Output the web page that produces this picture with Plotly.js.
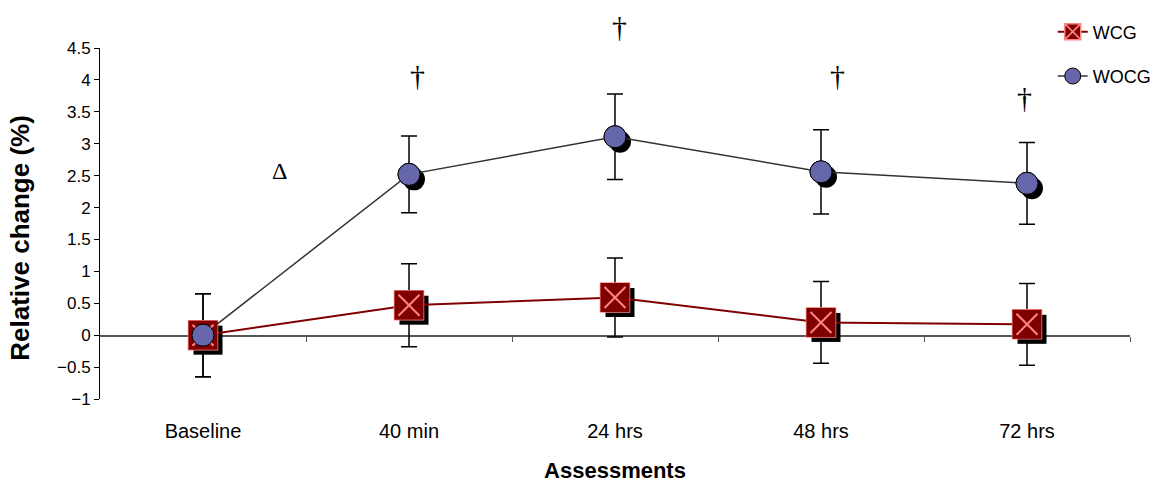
<!DOCTYPE html>
<html>
<head>
<meta charset="utf-8">
<script src="https://cdn.plot.ly/plotly-3.0.1.min.js"></script>
<style>
  html, body { margin: 0; padding: 0; background: #ffffff; }
  #chart { width: 1160px; height: 483px; }
</style>
</head>
<body>
<div id="chart"></div>
<script>
// ---- data ----
const categories = ['Baseline', '40 min', '24 hrs', '48 hrs', '72 hrs'];
const wcgValues   = [0, 0.47, 0.59, 0.20, 0.17];
const wcgErrors   = [0.65, 0.65, 0.62, 0.64, 0.64];
const wocgValues  = [0, 2.52, 3.11, 2.56, 2.38];
const wocgErrors  = [0.65, 0.60, 0.67, 0.66, 0.64];
const daggerX     = [1.04, 2.02, 3.08, 3.99];   // category index where each † sits
const daggerY     = [4.07, 4.84, 4.07, 3.72];
const deltaX      = 0.37;   // between Baseline and 40 min (category index)
const deltaY      = 2.58;
const yTicks      = [-1, -0.5, 0, 0.5, 1, 1.5, 2, 2.5, 3, 3.5, 4, 4.5];

// ---- helpers ----
const idx = categories.map((c, i) => i);
const xRange = [-0.5, categories.length - 0.5];
const yRange = [-1, 4.5];
const plotW = 1030, plotH = 351;
const shadowPx = 5;
const dx = shadowPx * (xRange[1] - xRange[0]) / plotW;
const dy = shadowPx * (yRange[1] - yRange[0]) / plotH;
const yToPaper = v => (v - yRange[0]) / (yRange[1] - yRange[0]);
const FONT = 'Liberation Sans, Arial, sans-serif';
const SERIF = 'Liberation Serif, Times New Roman, serif';
const RED = '#800000', PINK = '#ff8585', BLUE = '#6666aa', GREY = '#333333';
const SQ = 29, CI = 22;

const traces = [
  // shadows (base subplot, shifted axes)
  { x: idx, y: wcgValues, type: 'scatter', mode: 'markers', xaxis: 'x', yaxis: 'y',
    marker: { symbol: 'square', size: SQ, color: '#000000', line: { width: 0 } },
    showlegend: false, hoverinfo: 'skip' },
  { x: idx, y: wocgValues, type: 'scatter', mode: 'markers', xaxis: 'x', yaxis: 'y',
    marker: { symbol: 'circle', size: CI, color: '#000000', line: { width: 0 } },
    showlegend: false, hoverinfo: 'skip' },
  // error bars
  { x: idx, y: wcgValues, type: 'scatter', mode: 'none', xaxis: 'x2', yaxis: 'y2',
    error_y: { type: 'data', array: wcgErrors, visible: true, color: '#000000', thickness: 1.5, width: 8 },
    showlegend: false, hoverinfo: 'skip' },
  { x: idx, y: wocgValues, type: 'scatter', mode: 'none', xaxis: 'x2', yaxis: 'y2',
    error_y: { type: 'data', array: wocgErrors, visible: true, color: '#000000', thickness: 1.5, width: 8 },
    showlegend: false, hoverinfo: 'skip' },
  // main series (carry the legend)
  { x: idx, y: wcgValues, type: 'scatter', mode: 'lines+markers', name: 'WCG', legendgroup: 'a',
    xaxis: 'x2', yaxis: 'y2',
    line: { color: RED, width: 2 },
    marker: { symbol: 'square-x', size: SQ, color: RED, line: { color: PINK, width: 1.5 } } },
  { x: idx, y: wocgValues, type: 'scatter', mode: 'lines+markers', name: 'WOCG', legendgroup: 'b',
    xaxis: 'x2', yaxis: 'y2',
    line: { color: GREY, width: 1.5 },
    marker: { symbol: 'circle', size: CI, color: BLUE, line: { color: '#000000', width: 1 } } },
  // marker overlays
  { x: idx, y: wcgValues, type: 'scatter', mode: 'markers', xaxis: 'x2', yaxis: 'y2',
    marker: { symbol: 'square', size: SQ, color: RED, line: { width: 0 } },
    showlegend: false, hoverinfo: 'skip' },
  { x: idx, y: wcgValues, type: 'scatter', mode: 'markers', xaxis: 'x2', yaxis: 'y2',
    marker: { symbol: 'x-thin-open', size: 21, color: PINK, line: { color: PINK, width: 2 } },
    showlegend: false, hoverinfo: 'skip' },
  { x: idx, y: wocgValues, type: 'scatter', mode: 'markers', xaxis: 'x2', yaxis: 'y2',
    marker: { symbol: 'circle', size: CI, color: BLUE, line: { color: '#000000', width: 1 } },
    showlegend: false, hoverinfo: 'skip' },
  // carrier for the zero-crossing axis line
  { x: idx, y: wcgValues, type: 'scatter', mode: 'none', xaxis: 'x3', yaxis: 'y2',
    showlegend: false, hoverinfo: 'skip' }
];

const annotations = daggerX.map((xv, i) => ({
  x: xv, y: yToPaper(daggerY[i]), xref: 'x2', yref: 'paper',
  xanchor: 'center', yanchor: 'middle',
  text: '†', showarrow: false, font: { family: SERIF, size: 30, color: '#000000' }
}));
annotations.push({
  x: deltaX, y: deltaY, xref: 'x2', yref: 'y2', xanchor: 'center', yanchor: 'middle',
  text: 'Δ', showarrow: false, font: { family: SERIF, size: 24, color: '#000000' }
});

const layout = {
  width: 1160, height: 483,
  margin: { l: 100, r: 30, t: 48, b: 84, autoexpand: false },
  paper_bgcolor: '#ffffff', plot_bgcolor: 'rgba(0,0,0,0)',
  font: { family: FONT, size: 18, color: '#000000' },
  showlegend: true,
  legend: {
    x: 0.925, y: 1.0985, xanchor: 'left', yanchor: 'top',
    bgcolor: 'rgba(0,0,0,0)', borderwidth: 0,
    font: { family: FONT, size: 18, color: '#000000' },
    traceorder: 'grouped', tracegroupgap: 18
  },
  xaxis: { range: [xRange[0] - dx, xRange[1] - dx], visible: false, fixedrange: true },
  yaxis: { range: [yRange[0] + dy, yRange[1] + dy], visible: false, fixedrange: true },
  xaxis2: {
    overlaying: 'x', anchor: 'y2', range: xRange,
    tickmode: 'array', tickvals: idx, ticktext: categories,
    ticks: '', showline: false, showgrid: false, zeroline: false,
    ticklabelstandoff: 18,
    tickfont: { family: FONT, size: 20, color: '#000000' },
    title: { text: '<b>Assessments</b>', font: { family: FONT, size: 22, color: '#000000' }, standoff: 28 }
  },
  yaxis2: {
    overlaying: 'y', anchor: 'x2', side: 'left', range: yRange,
    tickmode: 'array', tickvals: yTicks,
    ticks: 'outside', ticklen: 5, tickwidth: 1, tickcolor: '#000000',
    showline: true, linecolor: '#000000', linewidth: 1,
    showgrid: false, zeroline: false,
    tickfont: { family: FONT, size: 17, color: '#000000' },
    title: { text: '<b>Relative change (%)</b>&nbsp;&nbsp;&nbsp;&nbsp;', font: { family: FONT, size: 26, color: '#000000' }, standoff: 19 }
  },
  xaxis3: {
    overlaying: 'x', anchor: 'free', position: yToPaper(0),
    range: xRange, tickmode: 'array',
    tickvals: idx.map(i => i + 0.5),
    ticks: 'outside', ticklen: 5, tickwidth: 1, tickcolor: '#555555',
    showline: true, linecolor: '#555555', linewidth: 1.5,
    showticklabels: false, showgrid: false, zeroline: false, layer: 'below traces'
  },
  annotations: annotations
};

Plotly.newPlot('chart', traces, layout, { staticPlot: true, displayModeBar: false });
</script>
</body>
</html>
